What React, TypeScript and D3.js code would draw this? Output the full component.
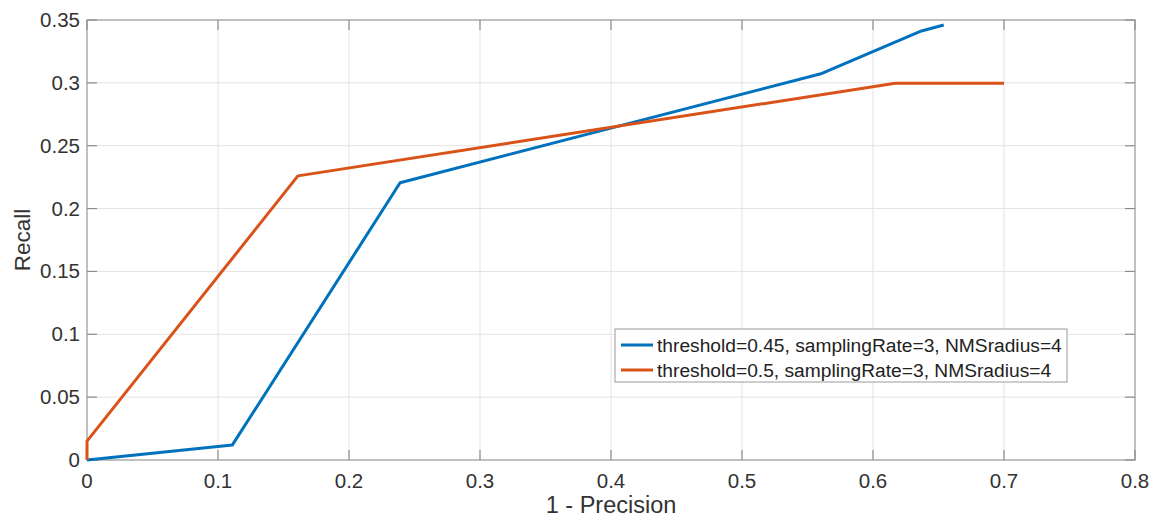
import React, { useEffect, useRef } from 'react';
import * as d3 from 'd3';

// series: [1 - precision, recall]
const blueX = [0, 0.111, 0.239, 0.561, 0.637, 0.654];
const blueY = [0, 0.012, 0.2205, 0.3075, 0.3413, 0.346];
const orangeX = [0, 0, 0.161, 0.617, 0.7];
const orangeY = [0, 0.015, 0.226, 0.2997, 0.2997];

const xTicks = [0, 0.1, 0.2, 0.3, 0.4, 0.5, 0.6, 0.7, 0.8];
const yTicks = [0, 0.05, 0.1, 0.15, 0.2, 0.25, 0.3, 0.35];
const seriesNames = [
  'threshold=0.45, samplingRate=3, NMSradius=4',
  'threshold=0.5, samplingRate=3, NMSradius=4',
];
const seriesColors = ['#0072BD', '#D95319'];

function App() {
  const svgRef = useRef<SVGSVGElement>(null);

  useEffect(() => {
    const svg = d3.select(svgRef.current);
    svg.selectAll('*').remove();

    const width = 1161;
    const height = 523;
    const margin = { top: 20, right: 26, bottom: 63, left: 87 };
    const font = 'Helvetica, Arial, "Liberation Sans", sans-serif';

    const x = d3.scaleLinear().domain([0, 0.8]).range([margin.left, width - margin.right]);
    const y = d3.scaleLinear().domain([0, 0.35]).range([height - margin.bottom, margin.top]);

    // grid
    const grid = svg.append('g').attr('stroke', '#e3e3e3').attr('stroke-width', 1);
    xTicks.forEach(t => {
      grid.append('line').attr('x1', x(t)).attr('x2', x(t)).attr('y1', y(0)).attr('y2', y(0.35));
    });
    yTicks.forEach(t => {
      grid.append('line').attr('x1', x(0)).attr('x2', x(0.8)).attr('y1', y(t)).attr('y2', y(t));
    });

    // box
    svg.append('rect')
      .attr('x', x(0)).attr('y', y(0.35))
      .attr('width', x(0.8) - x(0)).attr('height', y(0) - y(0.35))
      .attr('fill', 'none').attr('stroke', '#a6a6a6').attr('stroke-width', 1.3);

    // inward ticks
    const ticks = svg.append('g').attr('stroke', '#8c8c8c').attr('stroke-width', 1.2);
    xTicks.forEach(t => {
      ticks.append('line').attr('x1', x(t)).attr('x2', x(t)).attr('y1', y(0)).attr('y2', y(0) - 10);
      ticks.append('line').attr('x1', x(t)).attr('x2', x(t)).attr('y1', y(0.35)).attr('y2', y(0.35) + 10);
    });
    yTicks.forEach(t => {
      ticks.append('line').attr('x1', x(0)).attr('x2', x(0) + 10).attr('y1', y(t)).attr('y2', y(t));
      ticks.append('line').attr('x1', x(0.8)).attr('x2', x(0.8) - 10).attr('y1', y(t)).attr('y2', y(t));
    });

    // tick labels
    svg.append('g').selectAll('text').data(xTicks).enter().append('text')
      .attr('x', d => x(d)).attr('y', y(0) + 28)
      .attr('text-anchor', 'middle')
      .style('font-family', font).style('font-size', '20.5px').attr('fill', '#333')
      .text(d => d3.format('')(d));
    svg.append('g').selectAll('text').data(yTicks).enter().append('text')
      .attr('x', x(0) - 7).attr('y', d => y(d) + 7)
      .attr('text-anchor', 'end')
      .style('font-family', font).style('font-size', '20.5px').attr('fill', '#333')
      .text(d => d3.format('')(d));

    // axis labels
    svg.append('text')
      .attr('x', (x(0) + x(0.8)) / 2).attr('y', 513)
      .attr('text-anchor', 'middle')
      .style('font-family', font).style('font-size', '23.5px').attr('fill', '#333')
      .text('1 - Precision');
    svg.append('text')
      .attr('transform', `translate(30,${(y(0) + y(0.35)) / 2}) rotate(-90)`)
      .attr('text-anchor', 'middle')
      .style('font-family', font).style('font-size', '22.5px').attr('fill', '#333')
      .text('Recall');

    // lines
    const line = d3.line<[number, number]>().x(d => x(d[0])).y(d => y(d[1]));
    const series: [number, number][][] = [
      blueX.map((v, i) => [v, blueY[i]]),
      orangeX.map((v, i) => [v, orangeY[i]]),
    ];
    series.forEach((s, i) => {
      svg.append('path')
        .attr('d', line(s))
        .attr('fill', 'none')
        .attr('stroke', seriesColors[i])
        .attr('stroke-width', 3)
        .attr('stroke-linejoin', 'round');
    });

    // legend
    const lg = svg.append('g').attr('transform', 'translate(615,329)');
    lg.append('rect')
      .attr('width', 452).attr('height', 53)
      .attr('fill', 'white').attr('stroke', '#9a9a9a').attr('stroke-width', 1);
    seriesNames.forEach((name, i) => {
      const cy = 16 + i * 25;
      lg.append('line')
        .attr('x1', 6).attr('x2', 38).attr('y1', cy).attr('y2', cy)
        .attr('stroke', seriesColors[i]).attr('stroke-width', 3);
      lg.append('text')
        .attr('x', 42).attr('y', cy + 7)
        .style('font-family', font).style('font-size', '19.2px').attr('fill', '#222')
        .text(name);
    });
  }, []);

  return (
    <div>
      <svg ref={svgRef} width={1161} height={523} style={{ position: 'absolute', left: 0, top: 0 }}></svg>
    </div>
  );
}

export default App;
